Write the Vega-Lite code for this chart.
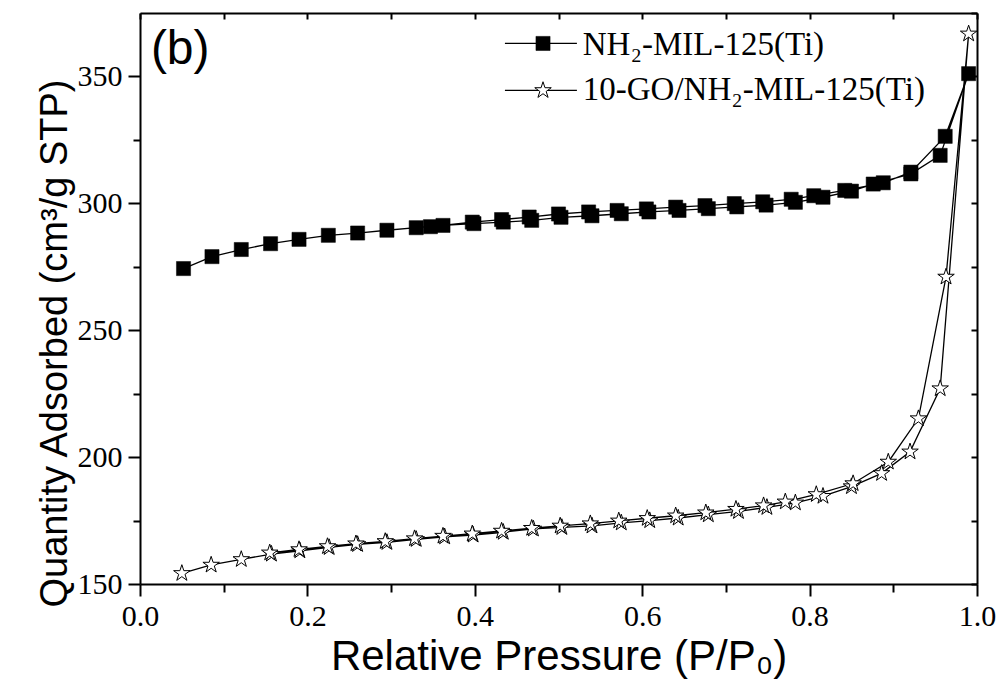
{
  "$schema": "https://vega.github.io/schema/vega-lite/v6.json",
  "width": 837,
  "height": 571,
  "autosize": "none",
  "padding": {"left": 140, "top": 13, "right": 22, "bottom": 98},
  "background": "white",
  "config": {
    "view": {"stroke": null},
    "axis": {"grid": false, "domainColor": "black", "tickColor": "black", "domainWidth": 2, "tickWidth": 2, "labelColor": "black", "titleColor": "black",
             "labelFont": "Liberation Serif", "labelFontSize": 30, "titleFont": "Liberation Sans", "titleFontWeight": "normal"}
  },
  "datasets": {
    "iso": [
      {"series": "A", "seq": 1, "p": 0.052, "q": 274.3},
      {"series": "A", "seq": 2, "p": 0.086, "q": 279.0},
      {"series": "A", "seq": 3, "p": 0.121, "q": 281.8},
      {"series": "A", "seq": 4, "p": 0.156, "q": 284.1},
      {"series": "A", "seq": 5, "p": 0.190, "q": 285.8},
      {"series": "A", "seq": 6, "p": 0.225, "q": 287.4},
      {"series": "A", "seq": 7, "p": 0.260, "q": 288.3},
      {"series": "A", "seq": 8, "p": 0.295, "q": 289.4},
      {"series": "A", "seq": 9, "p": 0.330, "q": 290.4},
      {"series": "A", "seq": 10, "p": 0.362, "q": 291.3},
      {"series": "A", "seq": 11, "p": 0.399, "q": 292.0},
      {"series": "A", "seq": 12, "p": 0.434, "q": 292.6},
      {"series": "A", "seq": 13, "p": 0.468, "q": 293.3},
      {"series": "A", "seq": 14, "p": 0.503, "q": 294.5},
      {"series": "A", "seq": 15, "p": 0.540, "q": 295.1},
      {"series": "A", "seq": 16, "p": 0.575, "q": 295.9},
      {"series": "A", "seq": 17, "p": 0.608, "q": 296.6},
      {"series": "A", "seq": 18, "p": 0.644, "q": 297.2},
      {"series": "A", "seq": 19, "p": 0.679, "q": 297.9},
      {"series": "A", "seq": 20, "p": 0.713, "q": 298.6},
      {"series": "A", "seq": 21, "p": 0.748, "q": 299.3},
      {"series": "A", "seq": 22, "p": 0.783, "q": 300.4},
      {"series": "A", "seq": 23, "p": 0.816, "q": 302.4},
      {"series": "A", "seq": 24, "p": 0.850, "q": 304.8},
      {"series": "A", "seq": 25, "p": 0.876, "q": 307.6},
      {"series": "A", "seq": 26, "p": 0.921, "q": 311.6},
      {"series": "A", "seq": 27, "p": 0.956, "q": 318.9},
      {"series": "A", "seq": 28, "p": 0.990, "q": 351.1},
      {"series": "A", "seq": 29, "p": 0.962, "q": 326.4},
      {"series": "A", "seq": 30, "p": 0.921, "q": 312.3},
      {"series": "A", "seq": 31, "p": 0.888, "q": 308.1},
      {"series": "A", "seq": 32, "p": 0.842, "q": 305.1},
      {"series": "A", "seq": 33, "p": 0.805, "q": 303.0},
      {"series": "A", "seq": 34, "p": 0.778, "q": 301.6},
      {"series": "A", "seq": 35, "p": 0.744, "q": 300.6},
      {"series": "A", "seq": 36, "p": 0.710, "q": 299.9},
      {"series": "A", "seq": 37, "p": 0.675, "q": 299.1},
      {"series": "A", "seq": 38, "p": 0.640, "q": 298.5},
      {"series": "A", "seq": 39, "p": 0.605, "q": 297.8},
      {"series": "A", "seq": 40, "p": 0.570, "q": 297.2},
      {"series": "A", "seq": 41, "p": 0.536, "q": 296.6},
      {"series": "A", "seq": 42, "p": 0.500, "q": 295.8},
      {"series": "A", "seq": 43, "p": 0.465, "q": 294.6},
      {"series": "A", "seq": 44, "p": 0.432, "q": 293.6},
      {"series": "A", "seq": 45, "p": 0.397, "q": 292.6},
      {"series": "A", "seq": 46, "p": 0.347, "q": 290.8},
      {"series": "B", "seq": 1, "p": 0.050, "q": 154.2},
      {"series": "B", "seq": 2, "p": 0.085, "q": 157.5},
      {"series": "B", "seq": 3, "p": 0.121, "q": 159.7},
      {"series": "B", "seq": 4, "p": 0.157, "q": 161.8},
      {"series": "B", "seq": 5, "p": 0.191, "q": 163.1},
      {"series": "B", "seq": 6, "p": 0.226, "q": 164.4},
      {"series": "B", "seq": 7, "p": 0.260, "q": 165.6},
      {"series": "B", "seq": 8, "p": 0.295, "q": 166.4},
      {"series": "B", "seq": 9, "p": 0.330, "q": 167.6},
      {"series": "B", "seq": 10, "p": 0.364, "q": 168.6},
      {"series": "B", "seq": 11, "p": 0.398, "q": 169.3},
      {"series": "B", "seq": 12, "p": 0.434, "q": 170.4},
      {"series": "B", "seq": 13, "p": 0.470, "q": 171.7},
      {"series": "B", "seq": 14, "p": 0.504, "q": 172.3},
      {"series": "B", "seq": 15, "p": 0.540, "q": 172.9},
      {"series": "B", "seq": 16, "p": 0.575, "q": 174.1},
      {"series": "B", "seq": 17, "p": 0.609, "q": 175.0},
      {"series": "B", "seq": 18, "p": 0.643, "q": 176.0},
      {"series": "B", "seq": 19, "p": 0.679, "q": 177.3},
      {"series": "B", "seq": 20, "p": 0.715, "q": 178.6},
      {"series": "B", "seq": 21, "p": 0.749, "q": 180.2},
      {"series": "B", "seq": 22, "p": 0.783, "q": 182.0},
      {"series": "B", "seq": 23, "p": 0.816, "q": 184.6},
      {"series": "B", "seq": 24, "p": 0.850, "q": 188.4},
      {"series": "B", "seq": 25, "p": 0.886, "q": 193.6},
      {"series": "B", "seq": 26, "p": 0.920, "q": 202.1},
      {"series": "B", "seq": 27, "p": 0.956, "q": 227.0},
      {"series": "B", "seq": 28, "p": 0.990, "q": 366.8},
      {"series": "B", "seq": 29, "p": 0.963, "q": 271.0},
      {"series": "B", "seq": 30, "p": 0.930, "q": 215.2},
      {"series": "B", "seq": 31, "p": 0.894, "q": 198.1},
      {"series": "B", "seq": 32, "p": 0.852, "q": 189.6},
      {"series": "B", "seq": 33, "p": 0.808, "q": 185.3},
      {"series": "B", "seq": 34, "p": 0.771, "q": 182.4},
      {"series": "B", "seq": 35, "p": 0.745, "q": 180.9},
      {"series": "B", "seq": 36, "p": 0.712, "q": 179.5},
      {"series": "B", "seq": 37, "p": 0.676, "q": 178.1},
      {"series": "B", "seq": 38, "p": 0.640, "q": 176.9},
      {"series": "B", "seq": 39, "p": 0.606, "q": 175.9},
      {"series": "B", "seq": 40, "p": 0.572, "q": 174.9},
      {"series": "B", "seq": 41, "p": 0.538, "q": 173.8},
      {"series": "B", "seq": 42, "p": 0.502, "q": 172.9},
      {"series": "B", "seq": 43, "p": 0.468, "q": 172.0},
      {"series": "B", "seq": 44, "p": 0.432, "q": 170.9},
      {"series": "B", "seq": 45, "p": 0.397, "q": 169.8},
      {"series": "B", "seq": 46, "p": 0.362, "q": 168.9},
      {"series": "B", "seq": 47, "p": 0.328, "q": 167.9},
      {"series": "B", "seq": 48, "p": 0.293, "q": 166.8},
      {"series": "B", "seq": 49, "p": 0.258, "q": 165.9},
      {"series": "B", "seq": 50, "p": 0.224, "q": 164.8},
      {"series": "B", "seq": 51, "p": 0.190, "q": 163.6},
      {"series": "B", "seq": 52, "p": 0.155, "q": 162.3}
    ],
    "leg": [
      {"series": "A", "x1": 0.436, "x2": 0.522, "xm": 0.4815, "y": 363.0, "tx": 0.529, "ty": 358.6, "label": "NH₂-MIL-125(Ti)"},
      {"series": "B", "x1": 0.436, "x2": 0.522, "xm": 0.4815, "y": 344.5, "tx": 0.529, "ty": 340.6, "label": "10-GO/NH₂-MIL-125(Ti)"}
    ],
    "panel": [
      {"x": 0.013, "y": 355.0, "label": "(b)"}
    ]
  },
  "layer": [
    {
      "data": {"name": "iso"},
      "mark": {"type": "line", "color": "black", "strokeWidth": 1.3},
      "encoding": {
        "x": {"field": "p", "type": "quantitative", "scale": {"domain": [0, 1], "nice": false, "zero": false},
              "axis": {"orient": "bottom", "title": "Relative Pressure (P/P₀)", "values": [0, 0.2, 0.4, 0.6, 0.8, 1.0], "format": ".1f",
                       "tickSize": 12, "labelFont": "Liberation Serif", "labelFontSize": 30, "labelPadding": 5,
                       "titleFont": "Liberation Sans", "titleFontSize": 42, "titleFontWeight": "normal", "titlePadding": 5, "labelFlush": false}},
        "y": {"field": "q", "type": "quantitative", "scale": {"domain": [150, 375], "nice": false, "zero": false},
              "axis": {"orient": "left", "title": "Quantity Adsorbed (cm³/g STP)", "values": [150, 200, 250, 300, 350], "format": "d",
                       "tickSize": 12, "labelFont": "Liberation Serif", "labelFontSize": 30, "labelPadding": 6,
                       "titleFont": "Liberation Sans", "titleFontSize": 38, "titleFontWeight": "normal", "titlePadding": 3, "titleY": 330}},
        "detail": {"field": "series"},
        "order": {"field": "seq", "type": "quantitative"}
      }
    },
    {
      "data": {"name": "iso"},
      "transform": [{"filter": "datum.series === 'A'"}],
      "mark": {"type": "point", "shape": "square", "filled": true, "fill": "black", "stroke": "black", "strokeWidth": 0.5, "size": 200, "opacity": 1},
      "encoding": {
        "x": {"field": "p", "type": "quantitative", "axis": null},
        "y": {"field": "q", "type": "quantitative", "axis": null}
      }
    },
    {
      "data": {"name": "iso"},
      "transform": [{"filter": "datum.series === 'B'"}],
      "mark": {"type": "point", "shape": "M0,-1L0.225,-0.309L0.951,-0.309L0.363,0.118L0.588,0.809L0,0.382L-0.588,0.809L-0.363,0.118L-0.951,-0.309L-0.225,-0.309Z", "filled": true, "fill": "white", "stroke": "black", "strokeWidth": 1, "size": 300, "opacity": 1},
      "encoding": {
        "x": {"field": "p", "type": "quantitative", "axis": null},
        "y": {"field": "q", "type": "quantitative", "axis": null}
      }
    },
    {
      "data": {"name": "iso"},
      "mark": {"type": "point", "opacity": 0},
      "encoding": {
        "x": {"field": "p", "type": "quantitative",
              "axis": {"orient": "bottom", "title": null, "values": [0.1, 0.3, 0.5, 0.7, 0.9], "labels": false, "domain": false, "tickSize": 8}},
        "y": {"field": "q", "type": "quantitative",
              "axis": {"orient": "left", "title": null, "values": [175, 225, 275, 325], "labels": false, "domain": false, "tickSize": 7}}
      }
    },
    {
      "data": {"name": "iso"},
      "mark": {"type": "point", "opacity": 0},
      "encoding": {
        "x": {"field": "p", "type": "quantitative",
              "axis": {"orient": "top", "title": null, "values": [0, 0.1, 0.2, 0.3, 0.4, 0.5, 0.6, 0.7, 0.8, 0.9, 1.0], "labels": false, "tickSize": -6}},
        "y": {"field": "q", "type": "quantitative",
              "axis": {"orient": "right", "title": null, "values": [150, 175, 200, 225, 250, 275, 300, 325, 350, 375], "labels": false, "tickSize": -6}}
      }
    },
    {
      "data": {"name": "leg"},
      "mark": {"type": "rule", "color": "black", "strokeWidth": 1.3},
      "encoding": {
        "x": {"field": "x1", "type": "quantitative", "axis": null},
        "x2": {"field": "x2"},
        "y": {"field": "y", "type": "quantitative", "axis": null}
      }
    },
    {
      "data": {"name": "leg"},
      "transform": [{"filter": "datum.series === 'A'"}],
      "mark": {"type": "point", "shape": "square", "filled": true, "fill": "black", "stroke": "black", "strokeWidth": 0.5, "size": 200, "opacity": 1},
      "encoding": {
        "x": {"field": "xm", "type": "quantitative", "axis": null},
        "y": {"field": "y", "type": "quantitative", "axis": null}
      }
    },
    {
      "data": {"name": "leg"},
      "transform": [{"filter": "datum.series === 'B'"}],
      "mark": {"type": "point", "shape": "M0,-1L0.225,-0.309L0.951,-0.309L0.363,0.118L0.588,0.809L0,0.382L-0.588,0.809L-0.363,0.118L-0.951,-0.309L-0.225,-0.309Z", "filled": true, "fill": "white", "stroke": "black", "strokeWidth": 1, "size": 300, "opacity": 1},
      "encoding": {
        "x": {"field": "xm", "type": "quantitative", "axis": null},
        "y": {"field": "y", "type": "quantitative", "axis": null}
      }
    },
    {
      "data": {"name": "leg"},
      "mark": {"type": "text", "align": "left", "baseline": "alphabetic", "font": "Liberation Serif", "fontSize": 33, "color": "black"},
      "encoding": {
        "x": {"field": "tx", "type": "quantitative", "axis": null},
        "y": {"field": "ty", "type": "quantitative", "axis": null},
        "text": {"field": "label"}
      }
    },
    {
      "data": {"name": "panel"},
      "mark": {"type": "text", "align": "left", "baseline": "alphabetic", "font": "Liberation Sans", "fontSize": 48, "color": "black"},
      "encoding": {
        "x": {"field": "x", "type": "quantitative", "axis": null},
        "y": {"field": "y", "type": "quantitative", "axis": null},
        "text": {"field": "label"}
      }
    }
  ],
  "resolve": {"axis": {"x": "independent", "y": "independent"}}
}
